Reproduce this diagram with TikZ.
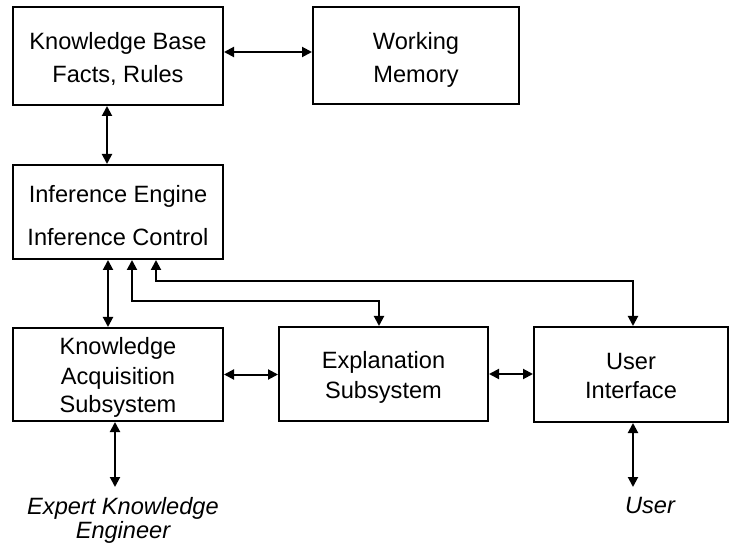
\documentclass[tikz,border=0pt]{standalone}
\usepackage{fontspec}
\setmainfont{Liberation Sans}
\usetikzlibrary{arrows.meta}
% centred stack of lines whose baseline is that of the first line
\newcommand\linestack[1]{\begin{tabular}[t]{@{}c@{}}#1\end{tabular}}
\renewcommand\arraystretch{1}
\begin{document}
\begin{tikzpicture}[x=1pt,y=-1pt,
  every node/.style={font=\fontsize{23.6}{29}\selectfont},
  box/.style={draw, line width=2pt, inner sep=0pt, text height=0pt},
  label text/.style={inner sep=0pt, anchor=north},
  dbl/.style={line width=2pt, <->, >={Triangle[length=10pt,width=10pt]}},
]
  % page
  \fill[white] (0,0) rectangle (731,545);
  \useasboundingbox (0,0) rectangle (731,545);

  % blocks
  \node[box, minimum width=210pt, minimum height=98pt, text depth=12pt]
    (kb) at (118,56) {\linestack{Knowledge Base\\[4pt]Facts, Rules}};
  \node[box, minimum width=206pt, minimum height=97pt, text depth=11pt]
    (wm) at (416,55.5) {\linestack{Working\\[4pt]Memory}};
  \node[box, minimum width=210pt, minimum height=94pt, text depth=18pt]
    (inf) at (118,212) {\linestack{Inference Engine\\[14pt]Inference Control}};
  \node[box, minimum width=210pt, minimum height=93pt, text depth=39pt]
    (ka) at (118,374.5) {\linestack{Knowledge\\Acquisition\\Subsystem}};
  \node[box, minimum width=209pt, minimum height=94pt, text depth=12pt]
    (ex) at (383.5,374) {\linestack{Explanation\\[1pt]Subsystem}};
  \node[box, minimum width=194pt, minimum height=95pt, text depth=11pt]
    (ui) at (631,374.5) {\linestack{User\\Interface}};

  % outside actors
  \node[label text, text height=27pt, font=\fontsize{23.6}{24}\selectfont\itshape]
    (expert) at (123,487) {\linestack{Expert Knowledge\\Engineer}};
  \node[label text, text height=26pt, font=\fontsize{23.6}{24}\selectfont\itshape]
    (user) at (650,487) {User};

  % connectors
  \draw[dbl] ([yshift=4pt]kb.east) -- ([yshift=4pt]kb.east -| wm.west);
  \draw[dbl] ([xshift=-11pt]kb.south) -- ([xshift=-11pt]kb.south |- inf.north);
  \draw[dbl] ([xshift=-10pt]inf.south) -- ([xshift=-10pt]inf.south |- ka.north);
  \draw[dbl] ([xshift=14pt]inf.south) -- ++(0,41) -| ([xshift=-4.5pt]ex.north);
  \draw[dbl] ([xshift=38pt]inf.south) -- ++(0,21) -| ([xshift=2pt]ui.north);
  \draw[dbl] (ka.east) -- (ka.east -| ex.west);
  \draw[dbl] (ex.east) -- (ex.east -| ui.west);
  \draw[dbl] ([xshift=-3pt]ka.south) -- ([xshift=-3pt]ka.south |- expert.north);
  \draw[dbl] ([xshift=2pt]ui.south) -- ([xshift=2pt]ui.south |- user.north);
\end{tikzpicture}
\end{document}
